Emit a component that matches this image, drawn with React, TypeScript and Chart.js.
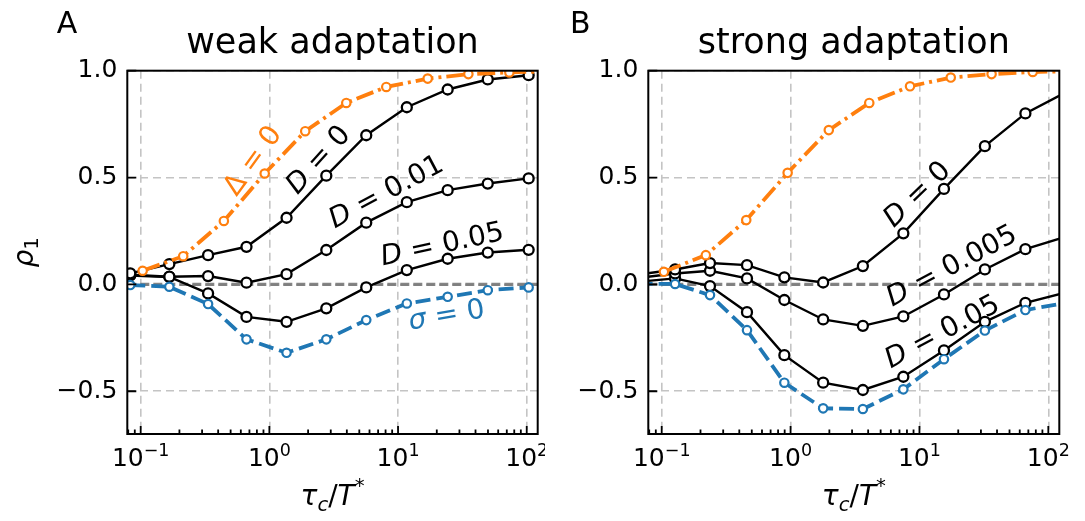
import React, { useEffect, useRef } from "react";
import { Chart, registerables } from "chart.js";

Chart.register(...registerables);

const FONT = "'DejaVu Sans', 'Liberation Sans', sans-serif";

// axis ranges and ticks
const X_MIN = 0.0787;
const X_MAX = 121.7;
const Y_MIN = -0.7;
const Y_MAX = 1.0;
const X_TICKS = [0.1, 1, 10, 100];
const X_TICK_EXPONENTS = ["\u22121", "0", "1", "2"];
const Y_TICKS = [-0.5, 0, 0.5, 1.0];
const Y_TICK_LABELS = ["\u22120.5", "0.0", "0.5", "1.0"];

// ---- Panel A: weak adaptation ----
const weakTau = [0.083, 0.167, 0.334, 0.664, 1.36, 2.77, 5.66, 11.7, 24.3, 49.8, 103.5];
const weakD0 = [0.052, 0.095, 0.137, 0.176, 0.312, 0.509, 0.698, 0.829, 0.912, 0.959, 0.979];
const weakD001 = [0.045, 0.036, 0.039, 0.008, 0.048, 0.161, 0.289, 0.385, 0.441, 0.472, 0.496];
const weakD005 = [0.042, 0.035, -0.042, -0.152, -0.175, -0.112, -0.014, 0.067, 0.12, 0.149, 0.162];
const weakSigma0 = [-0.003, -0.011, -0.092, -0.257, -0.32, -0.257, -0.167, -0.089, -0.058, -0.027, -0.014];
const weakDeltaTau = [0.1036, 0.214, 0.443, 0.92, 1.9, 3.96, 8.1, 17.0, 35.2, 73.3, 152];
const weakDelta0 = [0.064, 0.132, 0.297, 0.519, 0.717, 0.849, 0.924, 0.963, 0.984, 0.992, 0.997];

// ---- Panel B: strong adaptation ----
const strongTau = [0.065, 0.127, 0.237, 0.459, 0.895, 1.79, 3.64, 7.5, 15.5, 32.2, 66.4, 137.7];
const strongD0 = [0.045, 0.07, 0.1, 0.09, 0.033, 0.009, 0.086, 0.239, 0.447, 0.647, 0.8, 0.9];
const strongD0005 = [0.03, 0.051, 0.064, 0.028, -0.073, -0.164, -0.194, -0.15, -0.047, 0.07, 0.165, 0.224];
const strongD005 = [0.012, 0.028, -0.008, -0.13, -0.331, -0.46, -0.494, -0.432, -0.309, -0.175, -0.086, -0.037];
const strongSigma0 = [0.003, 0.002, -0.05, -0.214, -0.46, -0.58, -0.583, -0.491, -0.35, -0.216, -0.12, -0.086];
const strongDeltaTau = [0.104, 0.22, 0.453, 0.949, 1.98, 4.08, 8.45, 17.5, 36.3, 75.7, 157];
const strongDelta0 = [0.059, 0.137, 0.301, 0.522, 0.722, 0.849, 0.927, 0.968, 0.984, 0.994, 0.998];

type Seg = { t: string; it?: boolean; sc?: number; dy?: number };
type Label = { segs: Seg[]; x: number; y: number; angle: number; color: string };

const BLACK = "#000000";
const ORANGE = "#ff7f0e";
const BLUE = "#1f77b4";

const weakLabels: Label[] = [
  { segs: [{ t: "\u0394 = 0" }], x: 0.724, y: 0.584, angle: -54, color: ORANGE },
  { segs: [{ t: "D", it: true }, { t: " = 0" }], x: 2.34, y: 0.589, angle: -48, color: BLACK },
  { segs: [{ t: "D", it: true }, { t: " = 0.01" }], x: 7.95, y: 0.441, angle: -28, color: BLACK },
  { segs: [{ t: "D", it: true }, { t: " = 0.05" }], x: 21.9, y: 0.195, angle: -12, color: BLACK },
  { segs: [{ t: "\u03C3", it: true }, { t: " = 0" }], x: 23.7, y: -0.136, angle: -9.5, color: BLUE },
];
const strongLabels: Label[] = [
  { segs: [{ t: "D", it: true }, { t: " = 0" }], x: 9.36, y: 0.428, angle: -44, color: BLACK },
  { segs: [{ t: "D", it: true }, { t: " = 0.005" }], x: 17.5, y: 0.094, angle: -28, color: BLACK },
  { segs: [{ t: "D", it: true }, { t: " = 0.05" }], x: 14.8, y: -0.214, angle: -28, color: BLACK },
];

function fontStr(s: Seg, size: number) {
  return `${s.it ? "italic " : ""}normal ${size * (s.sc || 1)}px ${FONT}`;
}

function drawRich(ctx: CanvasRenderingContext2D, segs: Seg[], cx: number, cy: number, angleDeg: number, color: string, size: number) {
  ctx.save();
  ctx.translate(cx, cy);
  ctx.rotate((angleDeg * Math.PI) / 180);
  ctx.fillStyle = color;
  ctx.textBaseline = "alphabetic";
  ctx.textAlign = "left";
  const widths = segs.map((s) => {
    ctx.font = fontStr(s, size);
    return ctx.measureText(s.t).width;
  });
  const total = widths.reduce((a, b) => a + b, 0);
  let x = -total / 2;
  const base = size * 0.36;
  segs.forEach((s, i) => {
    ctx.font = fontStr(s, size);
    ctx.fillText(s.t, x, base + (s.dy || 0) * size);
    x += widths[i];
  });
  ctx.restore();
}

function series(xs: number[], ys: number[]) {
  return xs.map((x, i) => ({ x, y: ys[i] }));
}

const inRange = (ctx: any) => {
  const p = ctx.raw;
  return p && p.x >= X_MIN && p.x <= X_MAX;
};

function blackSet(xs: number[], ys: number[]) {
  return {
    data: series(xs, ys),
    borderColor: BLACK,
    borderWidth: 2.4,
    pointRadius: (c: any) => (inRange(c) ? 5 : 0),
    pointBorderWidth: 2.3,
    pointBorderColor: BLACK,
    pointBackgroundColor: "#ffffff",
    tension: 0,
    order: 2,
  };
}

function colorSet(xs: number[], ys: number[], color: string, dash: number[]) {
  return {
    data: series(xs, ys),
    borderColor: color,
    borderWidth: 3.8,
    borderDash: dash,
    pointRadius: (c: any) => (inRange(c) ? 4.2 : 0),
    pointBorderWidth: 2.2,
    pointBorderColor: color,
    pointBackgroundColor: "#ffffff",
    tension: 0,
    order: 1,
  };
}

type PanelSpec = {
  title: string;
  letter: string;
  letterX: number;
  chartLeft: number;
  padRight: number;
  showYTitle: boolean;
  datasets: any[];
  labels: Label[];
};

const TICK_SIZE = 25;

function makeConfig(p: PanelSpec): any {
  const overlay = {
    id: "overlay",
    beforeDatasetsDraw(chart: any) {
      const { ctx, chartArea: a, scales } = chart;
      const y0 = scales.y.getPixelForValue(0);
      ctx.save();
      ctx.strokeStyle = "rgba(120,120,120,0.9)";
      ctx.lineWidth = 3.4;
      ctx.setLineDash([9, 4]);
      ctx.beginPath();
      ctx.moveTo(a.left, y0);
      ctx.lineTo(a.right, y0);
      ctx.stroke();
      ctx.restore();
    },
    afterDatasetsDraw(chart: any) {
      const { ctx, chartArea: a, scales } = chart;
      const xs = scales.x;
      const ys = scales.y;
      ctx.save();
      // annotations
      p.labels.forEach((l) => {
        drawRich(ctx, l.segs, xs.getPixelForValue(l.x), ys.getPixelForValue(l.y), l.angle, l.color, 28);
      });
      // frame
      ctx.strokeStyle = "#000";
      ctx.lineWidth = 2;
      ctx.setLineDash([]);
      ctx.strokeRect(a.left, a.top, a.right - a.left, a.bottom - a.top);
      // inward ticks
      ctx.lineWidth = 1.8;
      ctx.beginPath();
      for (let e = -2; e <= 2; e++) {
        for (let m = 1; m <= 9; m++) {
          const v = m * Math.pow(10, e);
          if (v < X_MIN || v > X_MAX) continue;
          const px = xs.getPixelForValue(v);
          const len = m === 1 ? 8 : 4.5;
          ctx.moveTo(px, a.bottom);
          ctx.lineTo(px, a.bottom - len);
        }
      }
      Y_TICKS.forEach((v) => {
        const py = ys.getPixelForValue(v);
        ctx.moveTo(a.left, py);
        ctx.lineTo(a.left + 9, py);
      });
      ctx.stroke();
      ctx.restore();
    },
    afterDraw(chart: any) {
      const { ctx, chartArea: a, scales } = chart;
      ctx.save();
      ctx.fillStyle = "#000";
      ctx.font = `normal 30px ${FONT}`;
      ctx.textAlign = "left";
      ctx.textBaseline = "alphabetic";
      ctx.fillText(p.letter, p.letterX, 33.3);
      ctx.restore();
      // x tick labels (10 with superscript exponent)
      X_TICKS.forEach((v, i) => {
        drawRich(
          ctx,
          [{ t: "10" }, { t: X_TICK_EXPONENTS[i], sc: 0.7, dy: -0.4 }],
          scales.x.getPixelForValue(v),
          466 - 0.36 * TICK_SIZE,
          0,
          "#000",
          TICK_SIZE
        );
      });
      // x title
      drawRich(
        ctx,
        [
          { t: "\u03C4", it: true },
          { t: "c", it: true, sc: 0.7, dy: 0.2 },
          { t: "/" },
          { t: "T", it: true },
          { t: "*", sc: 0.7, dy: -0.45 },
        ],
        (a.left + a.right) / 2,
        495,
        0,
        "#000",
        28
      );
      if (p.showYTitle) {
        drawRich(ctx, [{ t: "\u03C1", it: true }, { t: "1", sc: 0.7, dy: 0.2 }], 22.5, (a.top + a.bottom) / 2, -90, "#000", 28);
      }
    },
  };

  return {
    type: "line",
    data: { datasets: p.datasets },
    options: {
      responsive: false,
      maintainAspectRatio: false,
      animation: false,
      events: [],
      layout: { padding: { left: 0, right: p.padRight, top: 0, bottom: 0 } },
      plugins: {
        legend: { display: false },
        tooltip: { enabled: false },
        title: {
          display: true,
          text: p.title,
          color: "#000",
          fullSize: false,
          font: { family: FONT, size: 35, weight: "normal" },
          padding: { top: 23.3, bottom: 5.4 },
        },
      },
      scales: {
        x: {
          type: "logarithmic",
          min: X_MIN,
          max: X_MAX,
          afterBuildTicks: (s: any) => {
            s.ticks = X_TICKS.map((v) => ({ value: v, major: true }));
          },
          afterFit: (s: any) => {
            s.height = 87;
          },
          ticks: {
            display: false,
            autoSkip: false,
          },
          grid: { color: "#c4c4c4", lineWidth: 1.6, drawTicks: false },
          border: { display: false, dash: [8, 5] },
        },
        y: {
          min: Y_MIN,
          max: Y_MAX,
          afterBuildTicks: (s: any) => {
            s.ticks = Y_TICKS.map((v) => ({ value: v }));
          },
          afterFit: (s: any) => {
            s.width = p.chartLeft;
          },
          ticks: {
            callback: (_v: any, i: number) => Y_TICK_LABELS[i],
            font: { family: FONT, size: TICK_SIZE },
            color: "#000",
            padding: 10,
            autoSkip: false,
          },
          grid: { color: "#c4c4c4", lineWidth: 1.6, drawTicks: false },
          border: { display: false, dash: [8, 5] },
        },
      },
    },
    plugins: [overlay],
  };
}

function Panel({ spec, left, width }: { spec: PanelSpec; left: number; width: number }) {
  const ref = useRef<HTMLCanvasElement | null>(null);
  useEffect(() => {
    if (!ref.current) return;
    const chart = new Chart(ref.current, makeConfig(spec));
    return () => chart.destroy();
  }, []);
  return (
    <canvas
      ref={ref}
      width={width}
      height={521}
      style={{ position: "absolute", left, top: 0, width, height: 521 }}
    />
  );
}

const weakSpec: PanelSpec = {
  title: "weak adaptation",
  letter: "A",
  letterX: 56.7,
  chartLeft: 127.3,
  padRight: 545 - 538.3,
  showYTitle: true,
  datasets: [
    colorSet(weakDeltaTau, weakDelta0, ORANGE, [18, 5, 3, 5]),
    colorSet(weakTau, weakSigma0, BLUE, [15, 6]),
    blackSet(weakTau, weakD0),
    blackSet(weakTau, weakD001),
    blackSet(weakTau, weakD005),
  ],
  labels: weakLabels,
};

const strongSpec: PanelSpec = {
  title: "strong adaptation",
  letter: "B",
  letterX: 25,
  chartLeft: 103.3,
  padRight: 540 - 514.3,
  showYTitle: false,
  datasets: [
    colorSet(strongDeltaTau, strongDelta0, ORANGE, [18, 5, 3, 5]),
    colorSet(strongTau, strongSigma0, BLUE, [15, 6]),
    blackSet(strongTau, strongD0),
    blackSet(strongTau, strongD0005),
    blackSet(strongTau, strongD005),
  ],
  labels: strongLabels,
};

export default function App() {
  return (
    <div style={{ position: "fixed", left: 0, top: 0, width: 1085, height: 521, background: "#fff" }}>
      <Panel spec={weakSpec} left={0} width={545} />
      <Panel spec={strongSpec} left={545} width={540} />
    </div>
  );
}
